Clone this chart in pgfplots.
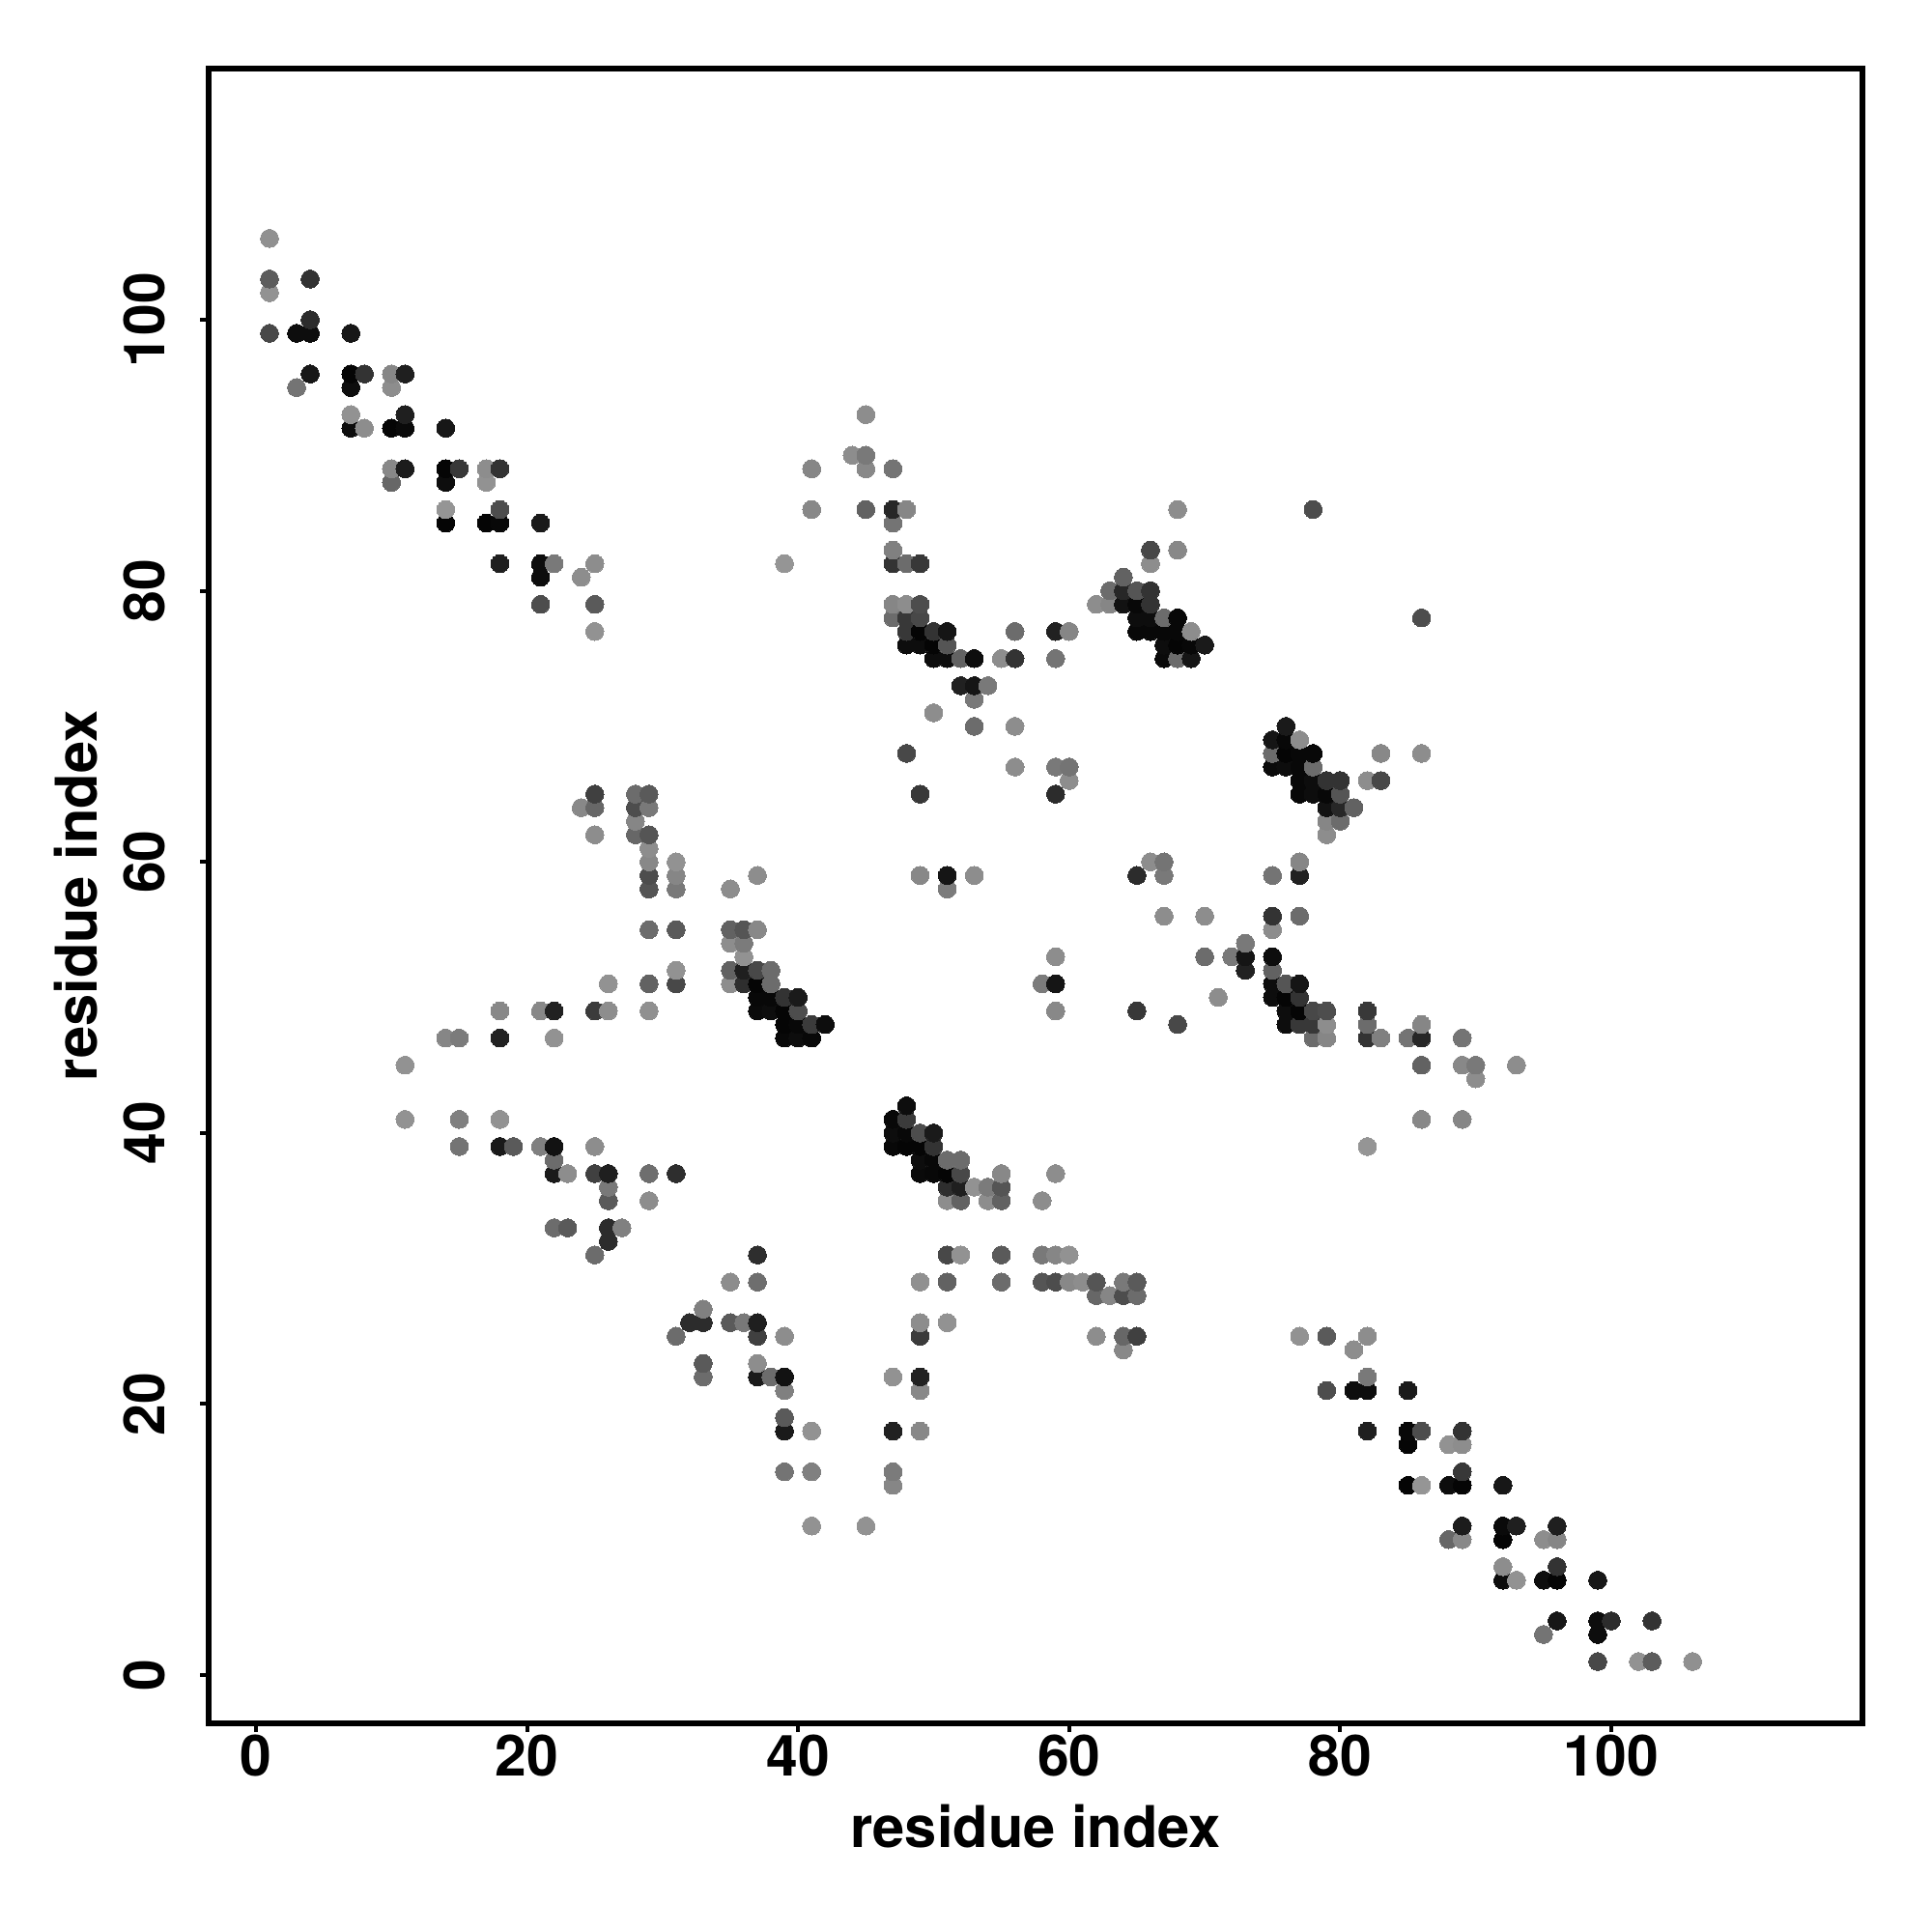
\documentclass[border=0pt]{standalone}
\usepackage{fontspec}
\setmainfont{TeX Gyre Heros}
\usepackage{pgfplots}
\pgfplotsset{compat=1.18}
\begin{document}
\begin{tikzpicture}[x=1pt,y=1pt]
\useasboundingbox (-54,-54) rectangle (446,446);
\begin{axis}[
  at={(0,0)},anchor=south west,
  scale only axis,width=428pt,height=428.25pt,
  xmin=-3.49,xmax=118.53,ymin=-3.56,ymax=118.53,
  axis line style={line width=1.42pt},
  tick style={line width=1pt,black},
  tick align=outside,major tick length=2.25pt,
  xtick pos=left,ytick pos=left,
  xtick={0,20,40,60,80,100},ytick={0,20,40,60,80,100},
  /pgf/number format/assume math mode=true,
  tick label style={font=\fontsize{14.7}{16}\selectfont\bfseries},
  yticklabel style={rotate=90,anchor=south,yshift=5.5pt},
  xticklabel style={anchor=north,yshift=2.8pt},
  label style={font=\fontsize{14.9}{16}\selectfont\bfseries},
  xlabel={residue index},ylabel={residue index},
  xlabel style={at={(axis description cs:0.5,0)},anchor=center,yshift=-26.7pt},
  ylabel style={at={(axis description cs:0,0.5)},anchor=center,yshift=34.25pt},
  colormap={bw}{gray(0cm)=(0);gray(1cm)=(1)},
  point meta min=0,point meta max=1,
  scatter/use mapped color={draw=mapped color,fill=mapped color},
]
% pairs with x<y, ordered by x then y
\addplot[scatter,only marks,mark=*,mark size=2.33pt,mark options={line width=0pt},point meta=explicit] table[row sep=\\,x=x,y=y,meta=g]{
x y g\\
1 99 .28\\ 1 102 .57\\ 1 103 .36\\ 1 106 .56\\
3 95 .45\\ 3 99 .05\\
4 96 .09\\ 4 99 .05\\ 4 100 .17\\ 4 103 .2\\
7 92 .05\\ 7 93 .57\\ 7 95 .05\\ 7 96 .02\\ 7 99 .09\\
8 92 .55\\ 8 96 .2\\
10 88 .4\\ 10 89 .53\\ 10 92 .02\\ 10 95 .55\\ 10 96 .52\\
11 41 .57\\ 11 45 .57\\ 11 89 .11\\ 11 92 .04\\ 11 93 .12\\ 11 96 .12\\
14 47 .52\\ 14 85 .02\\ 14 86 .58\\ 14 88 .05\\ 14 89 .02\\ 14 92 .09\\
15 39 .45\\ 15 41 .5\\ 15 47 .48\\ 15 89 .22\\
17 85 .02\\ 17 88 .57\\ 17 89 .55\\
18 39 .1\\ 18 41 .57\\ 18 47 .13\\ 18 49 .53\\ 18 82 .12\\ 18 85 .03\\ 18 86 .3\\ 18 89 .2\\
19 39 .35\\
21 39 .5\\ 21 49 .53\\ 21 79 .3\\ 21 81 .05\\ 21 82 .05\\ 21 85 .1\\
22 33 .42\\ 22 37 .1\\ 22 38 .42\\ 22 39 .07\\ 22 47 .57\\ 22 49 .13\\ 22 82 .47\\
23 33 .35\\ 23 37 .55\\
24 64 .53\\ 24 81 .55\\
25 31 .42\\ 25 37 .25\\ 25 39 .55\\ 25 49 .23\\ 25 62 .55\\ 25 64 .4\\ 25 65 .25\\ 25 77 .57\\ 25 79 .35\\ 25 82 .55\\
26 32 .17\\ 26 33 .17\\ 26 35 .35\\ 26 36 .47\\ 26 37 .12\\ 26 49 .55\\ 26 51 .57\\
27 33 .5\\
28 62 .4\\ 28 63 .52\\ 28 64 .3\\ 28 65 .42\\
29 35 .55\\ 29 37 .43\\ 29 49 .56\\ 29 51 .38\\ 29 55 .42\\ 29 58 .33\\ 29 59 .3\\ 29 60 .53\\ 29 61 .55\\ 29 62 .33\\ 29 64 .47\\ 29 65 .35\\
31 37 .18\\ 31 51 .28\\ 31 52 .57\\ 31 55 .35\\ 31 58 .47\\ 31 59 .52\\ 31 60 .57\\
35 51 .55\\ 35 52 .38\\ 35 54 .55\\ 35 55 .38\\ 35 58 .55\\
36 51 .18\\ 36 52 .12\\ 36 53 .57\\ 36 54 .48\\ 36 55 .33\\
37 49 .04\\ 37 50 .03\\ 37 51 .02\\ 37 52 .28\\ 37 55 .53\\ 37 59 .55\\
38 49 .05\\ 38 50 .03\\ 38 51 .42\\ 38 52 .42\\
39 47 .03\\ 39 48 .02\\ 39 49 .02\\ 39 50 .2\\ 39 82 .58\\
40 47 .05\\ 40 48 .03\\ 40 49 .3\\ 40 50 .1\\
41 47 .03\\ 41 48 .23\\ 41 86 .53\\ 41 89 .52\\
42 48 .05\\
44 90 .55\\
45 86 .38\\ 45 89 .53\\ 45 90 .47\\ 45 93 .55\\
47 78 .42\\ 47 79 .52\\ 47 82 .2\\ 47 83 .5\\ 47 85 .45\\ 47 86 .15\\ 47 89 .45\\
48 68 .28\\ 48 76 .05\\ 48 77 .22\\ 48 78 .22\\ 48 79 .55\\ 48 82 .42\\ 48 86 .52\\
49 59 .53\\ 49 65 .22\\ 49 76 .05\\ 49 77 .02\\ 49 78 .28\\ 49 79 .3\\ 49 82 .22\\
50 71 .55\\ 50 75 .05\\ 50 76 .02\\ 50 77 .2\\
51 58 .48\\ 51 59 .08\\ 51 75 .05\\ 51 76 .33\\ 51 77 .08\\
52 73 .13\\ 52 75 .38\\
53 59 .55\\ 53 70 .42\\ 53 72 .47\\ 53 73 .08\\ 53 75 .05\\
54 73 .47\\
55 75 .55\\
56 67 .55\\ 56 70 .55\\ 56 75 .2\\ 56 77 .42\\
59 65 .17\\ 59 67 .47\\ 59 75 .45\\ 59 77 .13\\
60 66 .55\\ 60 67 .45\\ 60 77 .52\\
62 79 .55\\
63 79 .52\\ 63 80 .42\\
64 79 .07\\ 64 80 .15\\ 64 81 .38\\
65 77 .03\\ 65 78 .05\\ 65 79 .03\\ 65 80 .33\\
66 77 .03\\ 66 78 .05\\ 66 79 .2\\ 66 80 .2\\ 66 82 .55\\ 66 83 .28\\
67 75 .04\\ 67 76 .05\\ 67 77 .03\\ 67 78 .42\\
68 75 .42\\ 68 76 .02\\ 68 77 .03\\ 68 78 .03\\ 68 83 .53\\ 68 86 .55\\
69 75 .08\\ 69 76 .03\\ 69 77 .55\\
70 76 .1\\
78 86 .3\\
};
% mirrored pairs, ordered by their x then y; columns y x g
\addplot[scatter,only marks,mark=*,mark size=2.33pt,mark options={line width=0pt},point meta=explicit] table[row sep=\\,x=x,y=y,meta=g]{
y x g\\
25 31 .42\\
26 32 .17\\
22 33 .42\\ 23 33 .35\\ 26 33 .17\\ 27 33 .5\\
26 35 .35\\ 29 35 .55\\
26 36 .47\\
22 37 .1\\ 23 37 .55\\ 25 37 .25\\ 26 37 .12\\ 29 37 .43\\ 31 37 .18\\
22 38 .42\\
15 39 .45\\ 18 39 .1\\ 19 39 .35\\ 21 39 .5\\ 22 39 .07\\ 25 39 .55\\
11 41 .57\\ 15 41 .5\\ 18 41 .57\\
11 45 .57\\
14 47 .52\\ 15 47 .48\\ 18 47 .13\\ 22 47 .57\\ 39 47 .03\\ 40 47 .05\\ 41 47 .03\\
39 48 .02\\ 40 48 .03\\ 41 48 .23\\ 42 48 .05\\
18 49 .53\\ 21 49 .53\\ 22 49 .13\\ 25 49 .23\\ 26 49 .55\\ 29 49 .56\\ 37 49 .04\\ 38 49 .05\\ 39 49 .02\\ 40 49 .3\\
37 50 .03\\ 38 50 .03\\ 39 50 .2\\ 40 50 .1\\
26 51 .57\\ 29 51 .38\\ 31 51 .28\\ 35 51 .55\\ 36 51 .18\\ 37 51 .02\\ 38 51 .42\\
31 52 .57\\ 35 52 .38\\ 36 52 .12\\ 37 52 .28\\ 38 52 .42\\
36 53 .57\\
35 54 .55\\ 36 54 .48\\
29 55 .42\\ 31 55 .35\\ 35 55 .38\\ 36 55 .33\\ 37 55 .53\\
29 58 .33\\ 31 58 .47\\ 35 58 .55\\ 51 58 .48\\
29 59 .3\\ 31 59 .52\\ 37 59 .55\\ 49 59 .53\\ 51 59 .08\\ 53 59 .55\\
29 60 .53\\ 31 60 .57\\
29 61 .55\\
25 62 .55\\ 28 62 .4\\ 29 62 .33\\
28 63 .52\\
24 64 .53\\ 25 64 .4\\ 28 64 .3\\ 29 64 .47\\
25 65 .25\\ 28 65 .42\\ 29 65 .35\\ 49 65 .22\\ 59 65 .17\\
60 66 .55\\
56 67 .55\\ 59 67 .47\\ 60 67 .45\\
48 68 .28\\
53 70 .42\\ 56 70 .55\\
50 71 .55\\
53 72 .47\\
52 73 .13\\ 53 73 .08\\ 54 73 .47\\
50 75 .05\\ 51 75 .05\\ 52 75 .38\\ 53 75 .05\\ 55 75 .55\\ 56 75 .2\\ 59 75 .45\\ 67 75 .04\\ 68 75 .42\\ 69 75 .08\\
48 76 .05\\ 49 76 .05\\ 50 76 .02\\ 51 76 .33\\ 67 76 .05\\ 68 76 .02\\ 69 76 .03\\ 70 76 .1\\
25 77 .57\\ 48 77 .22\\ 49 77 .02\\ 50 77 .2\\ 51 77 .08\\ 56 77 .42\\ 59 77 .13\\ 60 77 .52\\ 65 77 .03\\ 66 77 .03\\ 67 77 .03\\ 68 77 .03\\ 69 77 .55\\
47 78 .42\\ 48 78 .22\\ 49 78 .28\\ 65 78 .05\\ 66 78 .05\\ 67 78 .42\\ 68 78 .03\\
21 79 .3\\ 25 79 .35\\ 47 79 .52\\ 48 79 .55\\ 49 79 .3\\ 62 79 .55\\ 63 79 .52\\ 64 79 .07\\ 65 79 .03\\ 66 79 .2\\
63 80 .42\\ 64 80 .15\\ 65 80 .33\\ 66 80 .2\\
21 81 .05\\ 24 81 .55\\ 64 81 .38\\
18 82 .12\\ 21 82 .05\\ 22 82 .47\\ 25 82 .55\\ 39 82 .58\\ 47 82 .2\\ 48 82 .42\\ 49 82 .22\\ 66 82 .55\\
47 83 .5\\ 66 83 .28\\ 68 83 .53\\
14 85 .02\\ 17 85 .02\\ 18 85 .03\\ 21 85 .1\\ 47 85 .45\\
14 86 .58\\ 18 86 .3\\ 41 86 .53\\ 45 86 .38\\ 47 86 .15\\ 48 86 .52\\ 68 86 .55\\ 78 86 .3\\
10 88 .4\\ 14 88 .05\\ 17 88 .57\\
10 89 .53\\ 11 89 .11\\ 14 89 .02\\ 15 89 .22\\ 17 89 .55\\ 18 89 .2\\ 41 89 .52\\ 45 89 .53\\ 47 89 .45\\
44 90 .55\\ 45 90 .47\\
7 92 .05\\ 8 92 .55\\ 10 92 .02\\ 11 92 .04\\ 14 92 .09\\
7 93 .57\\ 11 93 .12\\ 45 93 .55\\
3 95 .45\\ 7 95 .05\\ 10 95 .55\\
4 96 .09\\ 7 96 .02\\ 8 96 .2\\ 10 96 .52\\ 11 96 .12\\
1 99 .28\\ 3 99 .05\\ 4 99 .05\\ 7 99 .09\\
4 100 .17\\
1 102 .57\\
1 103 .36\\ 4 103 .2\\
1 106 .56\\
};
\end{axis}
\end{tikzpicture}
\end{document}
